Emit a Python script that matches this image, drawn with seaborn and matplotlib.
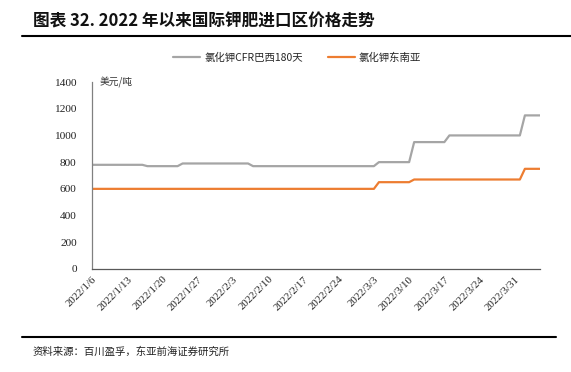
import numpy as np
import pandas as pd
import matplotlib
matplotlib.use("Agg")
import matplotlib.pyplot as plt
from matplotlib.lines import Line2D
import seaborn as sns

# ---- data (daily, 2022-01-06 .. 2022-04-05) ----
start_date = "2022-01-06"
n_days = 90
# (value, number of days) runs
brazil_runs = [(780, 11), (770, 7), (790, 14), (770, 25), (800, 7), (950, 7), (1000, 15), (1150, 4)]
sea_runs = [(600, 57), (650, 7), (670, 22), (750, 4)]
series_names = ["氯化钾CFR巴西180天", "氯化钾东南亚"]
tick_labels = ["2022/1/6", "2022/1/13", "2022/1/20", "2022/1/27", "2022/2/3", "2022/2/10",
               "2022/2/17", "2022/2/24", "2022/3/3", "2022/3/10", "2022/3/17", "2022/3/24", "2022/3/31"]
y_ticks = [0, 200, 400, 600, 800, 1000, 1200, 1400]

def expand(runs):
    out = []
    for v, n in runs:
        out += [v] * n
    return out

brazil = expand(brazil_runs)
sea = expand(sea_runs)
dates = pd.date_range(start_date, periods=n_days, freq="D")
df = pd.DataFrame({"idx": np.arange(n_days), series_names[0]: brazil, series_names[1]: sea})
long = df.melt(id_vars="idx", var_name="series", value_name="value")

sns.set_theme(style="white")
plt.rcParams['font.family'] = ['Noto Sans CJK SC', 'DejaVu Sans']

W, H = 571, 372
fig = plt.figure(figsize=(W / 100, H / 100), dpi=100)
ax = fig.add_axes([92 / W, 1 - 269 / H, (540 - 92) / W, (269 - 82) / H])

colors = {series_names[0]: "#A5A5A5", series_names[1]: "#ED7D31"}
sns.lineplot(data=long, x="idx", y="value", hue="series", palette=colors, linewidth=1.6,
             ax=ax, legend=False)

ax.set_xlim(0, n_days - 1)
ax.set_ylim(0, 1400)
ax.set_yticks(y_ticks)
ax.set_yticklabels([str(v) for v in y_ticks], family="Liberation Serif", fontsize=8.2, color="#222222")
ax.set_xticks(np.arange(0, n_days, 7)[:len(tick_labels)])
ax.set_xticklabels(tick_labels, family="Liberation Serif", fontsize=7.8, rotation=45,
                   ha="right", va="top", rotation_mode="anchor", color="#222222")
ax.tick_params(axis="y", direction="in", length=4, width=0.8, color="#808080", pad=11)
ax.tick_params(axis="x", length=0, pad=4)
ax.set_xlabel("")
ax.set_ylabel("")
for s in ["top", "right"]:
    ax.spines[s].set_visible(False)
ax.spines["left"].set_color("#808080")
ax.spines["bottom"].set_color("#595959")
ax.spines["left"].set_linewidth(0.9)
ax.spines["bottom"].set_linewidth(0.9)
ax.grid(False)

ax.text(0.018, 1.0, "美元/吨", transform=ax.transAxes, fontsize=7, color="#333333", va="center", ha="left")

handles = [Line2D([], [], color=colors[n], lw=1.6) for n in series_names]
fig.legend(handles, series_names, loc="center", bbox_to_anchor=(297 / W, 1 - 58 / H), ncol=2,
           frameon=False, fontsize=7.5, handlelength=2.6, columnspacing=2.4, handletextpad=0.4)

fig.text(33 / W, 1 - 21 / H, "图表 32. 2022 年以来国际钾肥进口区价格走势", fontsize=12,
         fontweight="bold", va="center", ha="left", color="#111111")
fig.add_artist(Line2D([22 / W, 1.0], [1 - 36 / H, 1 - 36 / H], color="black", lw=1.5))
fig.add_artist(Line2D([22 / W, 556 / W], [1 - 337 / H, 1 - 337 / H], color="black", lw=1.5))
fig.text(33 / W, 1 - 352 / H, "资料来源：百川盈孚，东亚前海证券研究所", fontsize=7.5,
         va="center", ha="left", color="#222222")

fig.savefig("out.png", dpi=100)
